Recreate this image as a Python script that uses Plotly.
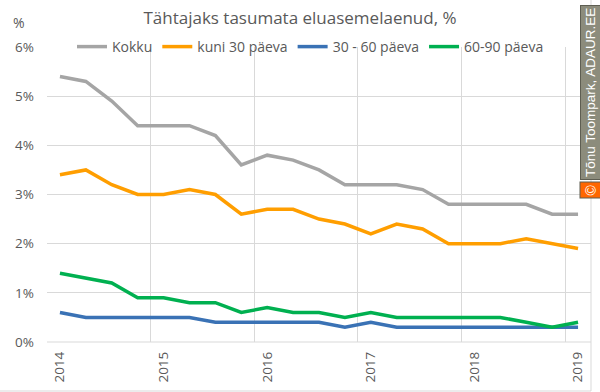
import plotly.graph_objects as go

quarters = list(range(21))
year_ticks = [0, 4, 8, 12, 16, 20]
year_labels = ["2014", "2015", "2016", "2017", "2018", "2019"]

kokku = [5.4, 5.3, 4.9, 4.4, 4.4, 4.4, 4.2, 3.6, 3.8, 3.7, 3.5, 3.2, 3.2, 3.2, 3.1, 2.8, 2.8, 2.8, 2.8, 2.6, 2.6]
kuni30 = [3.4, 3.5, 3.2, 3.0, 3.0, 3.1, 3.0, 2.6, 2.7, 2.7, 2.5, 2.4, 2.2, 2.4, 2.3, 2.0, 2.0, 2.0, 2.1, 2.0, 1.9]
p30_60 = [0.6, 0.5, 0.5, 0.5, 0.5, 0.5, 0.4, 0.4, 0.4, 0.4, 0.4, 0.3, 0.4, 0.3, 0.3, 0.3, 0.3, 0.3, 0.3, 0.3, 0.3]
p60_90 = [1.4, 1.3, 1.2, 0.9, 0.9, 0.8, 0.8, 0.6, 0.7, 0.6, 0.6, 0.5, 0.6, 0.5, 0.5, 0.5, 0.5, 0.5, 0.4, 0.3, 0.4]

series = [
    ("Kokku", kokku, "#A5A5A5"),
    ("kuni 30 päeva", kuni30, "#FF9E00"),
    ("30 - 60 päeva", p30_60, "#3A72B5"),
    ("60-90 päeva", p60_90, "#00B050"),
]

fig = go.Figure()
for name, vals, col in series:
    fig.add_trace(go.Scatter(x=quarters, y=vals, name=name, mode="lines",
                             line=dict(color=col, width=3.5)))

W, H = 600, 392
L, R, T, B = 47, 9, 47, 50
pw, ph = W - L - R, H - T - B
TXT = "#595959"
GRID = "#D9D9D9"
FONT = "Open Sans, Lato, sans-serif"

fig.update_layout(
    width=W, height=H,
    margin=dict(l=L, r=R, t=T, b=B),
    paper_bgcolor="white", plot_bgcolor="white",
    font=dict(family=FONT, color=TXT, size=13.5),
    title=dict(text="Tähtajaks tasumata eluasemelaenud, %", x=0.5, xanchor="center",
               y=1 - 18 / H, yanchor="middle", font=dict(size=17, color=TXT)),
    showlegend=True,
    legend=dict(orientation="h", x=(72 - L) / pw, xanchor="left", y=1.0, yanchor="middle",
                bgcolor="rgba(0,0,0,0)", font=dict(size=14, color=TXT),
                itemwidth=30, tracegroupgap=0),
    xaxis=dict(range=[-0.5, 20.5], tickmode="array", tickvals=year_ticks, ticktext=year_labels,
               tickangle=-90, showgrid=False, zeroline=False, showline=False, ticks="",
               ticklabelstandoff=6, automargin=False,
               minor=dict(tickmode="array", tickvals=[-0.5, 3.5, 7.5, 11.5, 15.5, 19.5],
                          showgrid=True, gridcolor=GRID, gridwidth=1, ticks="")),
    yaxis=dict(range=[0, 6], dtick=1, ticksuffix="%", showgrid=True, gridcolor=GRID,
               gridwidth=1, zeroline=False, showline=False, ticks="", ticklabelstandoff=12,
               automargin=False),
)

# bottom axis line
fig.add_shape(type="line", xref="paper", yref="paper", x0=0, x1=1, y0=0, y1=0,
              line=dict(color=GRID, width=1))
# chart frame (right and bottom)
fig.add_shape(type="line", xref="paper", yref="paper", x0=1, x1=1, y0=-(B - 1) / ph, y1=1 + T / ph,
              line=dict(color=GRID, width=1))
fig.add_shape(type="line", xref="paper", yref="paper", x0=-L / pw, x1=1, y0=-(B - 1) / ph, y1=-(B - 1) / ph,
              line=dict(color=GRID, width=1))

# y-axis title
fig.add_annotation(text="%", xref="paper", yref="paper", x=(19 - L) / pw, y=(H - B - 23) / ph,
                   xanchor="center", yanchor="middle", showarrow=False,
                   font=dict(size=14, color=TXT))

# watermark
fig.add_annotation(text="Tõnu Toompark, ADAUR.EE", textangle=-90, xref="paper", yref="paper",
                   x=(590.5 - L) / pw, y=(H - B - 180) / ph, xanchor="center", yanchor="bottom",
                   showarrow=False, bgcolor="#8C8C7C", bordercolor="#5E5E52", borderwidth=1,
                   borderpad=2, font=dict(size=13.5, color="white", family="Liberation Sans, Arial"))
fig.add_annotation(text="©", textangle=-90, xref="paper", yref="paper",
                   x=(590.5 - L) / pw, y=(H - B - 190) / ph, xanchor="center", yanchor="middle",
                   showarrow=False, bgcolor="#FF6600", bordercolor="#5E5E52", borderwidth=1,
                   borderpad=2, font=dict(size=14, color="white", family="Liberation Sans, Arial"))

fig.write_html("out.html", config={"displayModeBar": False},
               post_script="document.body.style.margin='0';")
